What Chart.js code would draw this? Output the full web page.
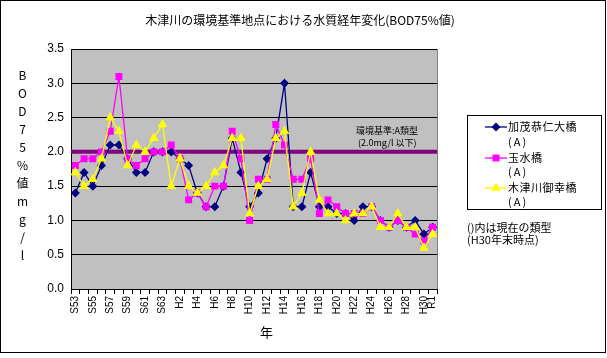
<!DOCTYPE html>
<html><head><meta charset="utf-8">
<script src="https://cdn.jsdelivr.net/npm/chart.js@4.4.1/dist/chart.umd.min.js"></script>
<style>
html,body{margin:0;padding:0;background:#fff;}
#wrap{position:relative;width:607px;height:358px;overflow:hidden;font-family:"Noto Sans CJK JP",sans-serif;}
#frame{position:absolute;left:0;top:0;width:604px;height:351px;border:1px solid #000;}
#legendBox{position:absolute;left:467px;top:115px;width:133px;height:93px;border:1px solid #000;background:#fff;}
canvas{position:absolute;left:0;top:0;}
.t{position:absolute;white-space:nowrap;color:#000;line-height:1;}
</style></head><body>
<div id="wrap">
<div id="frame"></div>
<div id="legendBox"></div>
<canvas id="c" width="607" height="358"></canvas>
<div class="t" style="left:0;width:600px;text-align:center;top:14px;font-size:12px;">木津川の環境基準地点における水質経年変化(BOD75%値)</div>
<div class="t" style="left:16px;top:69px;font-size:12px;writing-mode:vertical-lr;text-orientation:upright;letter-spacing:6px;">BOD75%値mg/l</div>
<div class="t" style="left:260px;top:325px;font-size:13px;">年</div>
<div class="t" style="left:356px;top:126px;font-size:9px;">環境基準:A類型</div>
<div class="t" style="left:358px;top:138px;font-size:9px;">(2.0mg/l 以下)</div>
<div class="t" style="left:508px;top:121px;font-size:11px;letter-spacing:0.5px;">加茂恭仁大橋</div>
<div class="t" style="left:508px;top:136px;font-size:11px;letter-spacing:2px;">(A)</div>
<div class="t" style="left:508px;top:152px;font-size:11px;letter-spacing:0.5px;">玉水橋</div>
<div class="t" style="left:508px;top:166px;font-size:11px;letter-spacing:2px;">(A)</div>
<div class="t" style="left:508px;top:182px;font-size:11px;letter-spacing:0.5px;">木津川御幸橋</div>
<div class="t" style="left:508px;top:196px;font-size:11px;letter-spacing:2px;">(A)</div>
<div class="t" style="left:467px;top:222px;font-size:11px;">()内は現在の類型</div>
<div class="t" style="left:467px;top:234px;font-size:11px;">(H30年末時点)</div>
</div>
<script>
const categories = ['S53','S54','S55','S56','S57','S58','S59','S60','S61','S62','S63',
  'H1','H2','H3','H4','H5','H6','H7','H8','H9','H10',
  'H11','H12','H13','H14','H15','H16','H17','H18','H19','H20',
  'H21','H22','H23','H24','H25','H26','H27','H28','H29','H30','R1'];
const kamoValues = [1.4,1.7,1.5,1.8,2.1,2.1,1.9,1.7,1.7,2.0,2.0,
  2.0,1.9,1.8,1.4,1.2,1.2,1.5,2.2,1.7,1.2,
  1.4,1.9,2.2,3.0,1.2,1.2,1.7,1.2,1.2,1.1,
  1.1,1.0,1.2,1.2,1.0,0.9,1.0,0.9,1.0,0.8,0.9];
const tamamizuValues = [1.8,1.9,1.9,2.0,2.3,3.1,1.9,1.8,1.9,2.0,2.0,
  2.1,1.9,1.3,1.4,1.2,1.5,1.5,2.3,1.9,1.0,
  1.6,1.6,2.4,2.1,1.6,1.6,1.9,1.1,1.3,1.2,
  1.1,1.1,1.1,1.2,1.0,0.9,1.0,0.9,0.8,0.7,0.9];
const miyukiValues = [1.7,1.5,1.6,1.9,2.5,2.3,1.8,2.1,2.0,2.2,2.4,
  1.5,1.9,1.5,1.4,1.5,1.7,1.8,2.2,2.2,1.1,
  1.5,1.6,2.2,2.3,1.2,1.4,2.0,1.3,1.1,1.1,
  1.0,1.1,1.1,1.2,0.9,0.9,1.1,0.9,0.9,0.6,0.8];
const seriesNames = ['加茂恭仁大橋','玉水橋','木津川御幸橋'];
const standardValue = 2.0;
const yMin = 0, yMax = 3.5, yStep = 0.5;

const plotBg = {
  id: 'plotBg',
  beforeDraw(chart) {
    const {ctx, chartArea: a} = chart;
    ctx.save();
    ctx.fillStyle = '#C0C0C0';
    ctx.fillRect(a.left, a.top, a.right - a.left, a.bottom - a.top);
    ctx.restore();
  },
  beforeDatasetsDraw(chart) {
    const {ctx, chartArea: a} = chart;
    const y = chart.scales.y.getPixelForValue(standardValue);
    ctx.save();
    ctx.strokeStyle = '#808080';
    ctx.lineWidth = 1;
    ctx.beginPath();
    ctx.moveTo(a.right + 0.5, a.top);
    ctx.lineTo(a.right + 0.5, a.bottom);
    ctx.stroke();
    ctx.strokeStyle = '#800080';
    ctx.lineWidth = 4;
    ctx.beginPath();
    ctx.moveTo(a.left, y);
    ctx.lineTo(a.right, y);
    ctx.stroke();
    ctx.restore();
  },
  afterDraw(chart) {
    const {ctx} = chart;
    const rows = [127, 158, 188];
    chart.data.datasets.forEach((ds, i) => {
      const y = rows[i];
      ctx.save();
      ctx.strokeStyle = ds.borderColor;
      ctx.lineWidth = ds.borderWidth;
      ctx.beginPath();
      ctx.moveTo(485, y);
      ctx.lineTo(507, y);
      ctx.stroke();
      ctx.fillStyle = ds.pointBackgroundColor;
      ctx.strokeStyle = ds.pointBorderColor;
      Chart.helpers.drawPoint(ctx, {pointStyle: ds.pointStyle, radius: ds.pointRadius, rotation: 0, borderWidth: 1}, 496, y);
      ctx.restore();
    });
  }
};

new Chart(document.getElementById('c'), {
  type: 'line',
  data: {
    labels: categories,
    datasets: [
      {label: seriesNames[0], data: kamoValues, borderColor: '#000080', backgroundColor: '#000080',
       pointBackgroundColor: '#000080', pointBorderColor: '#000080', pointStyle: 'rectRot', pointRadius: 3.6,
       borderWidth: 1.3, tension: 0, order: 2},
      {label: seriesNames[1], data: tamamizuValues, borderColor: '#FF00FF', backgroundColor: '#FF00FF',
       pointBackgroundColor: '#FF00FF', pointBorderColor: '#FF00FF', pointStyle: 'rect', pointRadius: 4,
       borderWidth: 1.3, tension: 0, order: 1},
      {label: seriesNames[2], data: miyukiValues, borderColor: '#FFFF00', backgroundColor: '#FFFF00',
       pointBackgroundColor: '#FFFF00', pointBorderColor: '#FFFF00', pointStyle: 'triangle', pointRadius: 4.3,
       borderWidth: 1.3, tension: 0, order: 0}
    ]
  },
  options: {
    responsive: false,
    animation: false,
    devicePixelRatio: 1,
    layout: {padding: {left: 0, top: 49, right: 170, bottom: 0}},
    plugins: {legend: {display: false}, tooltip: {enabled: false}, title: {display: false}},
    scales: {
      x: {
        type: 'category',
        offset: true,
        afterFit(s) { s.height = 69; },
        grid: {offset: true, drawOnChartArea: false, drawTicks: true, tickLength: 5, color: '#000', lineWidth: 1},
        border: {display: true, color: '#000', width: 1},
        ticks: {
          autoSkip: false, maxRotation: 90, minRotation: 90, padding: 2,
          color: '#000', font: {family: '"Liberation Sans", Arial, sans-serif', size: 10},
          callback(v, i) { return (i % 2 === 0 || i === categories.length - 1) ? categories[i] : ''; }
        }
      },
      y: {
        min: yMin, max: yMax,
        afterFit(s) { s.width = 71; },
        grid: {color: '#000', lineWidth: 1, drawTicks: false},
        border: {display: true, color: '#000', width: 1},
        ticks: {
          stepSize: yStep, padding: 7, color: '#000',
          font: {family: '"Liberation Sans", Arial, sans-serif', size: 12},
          callback(v) { return Number(v).toFixed(1); }
        }
      }
    }
  },
  plugins: [plotBg]
});
</script>
</body></html>
